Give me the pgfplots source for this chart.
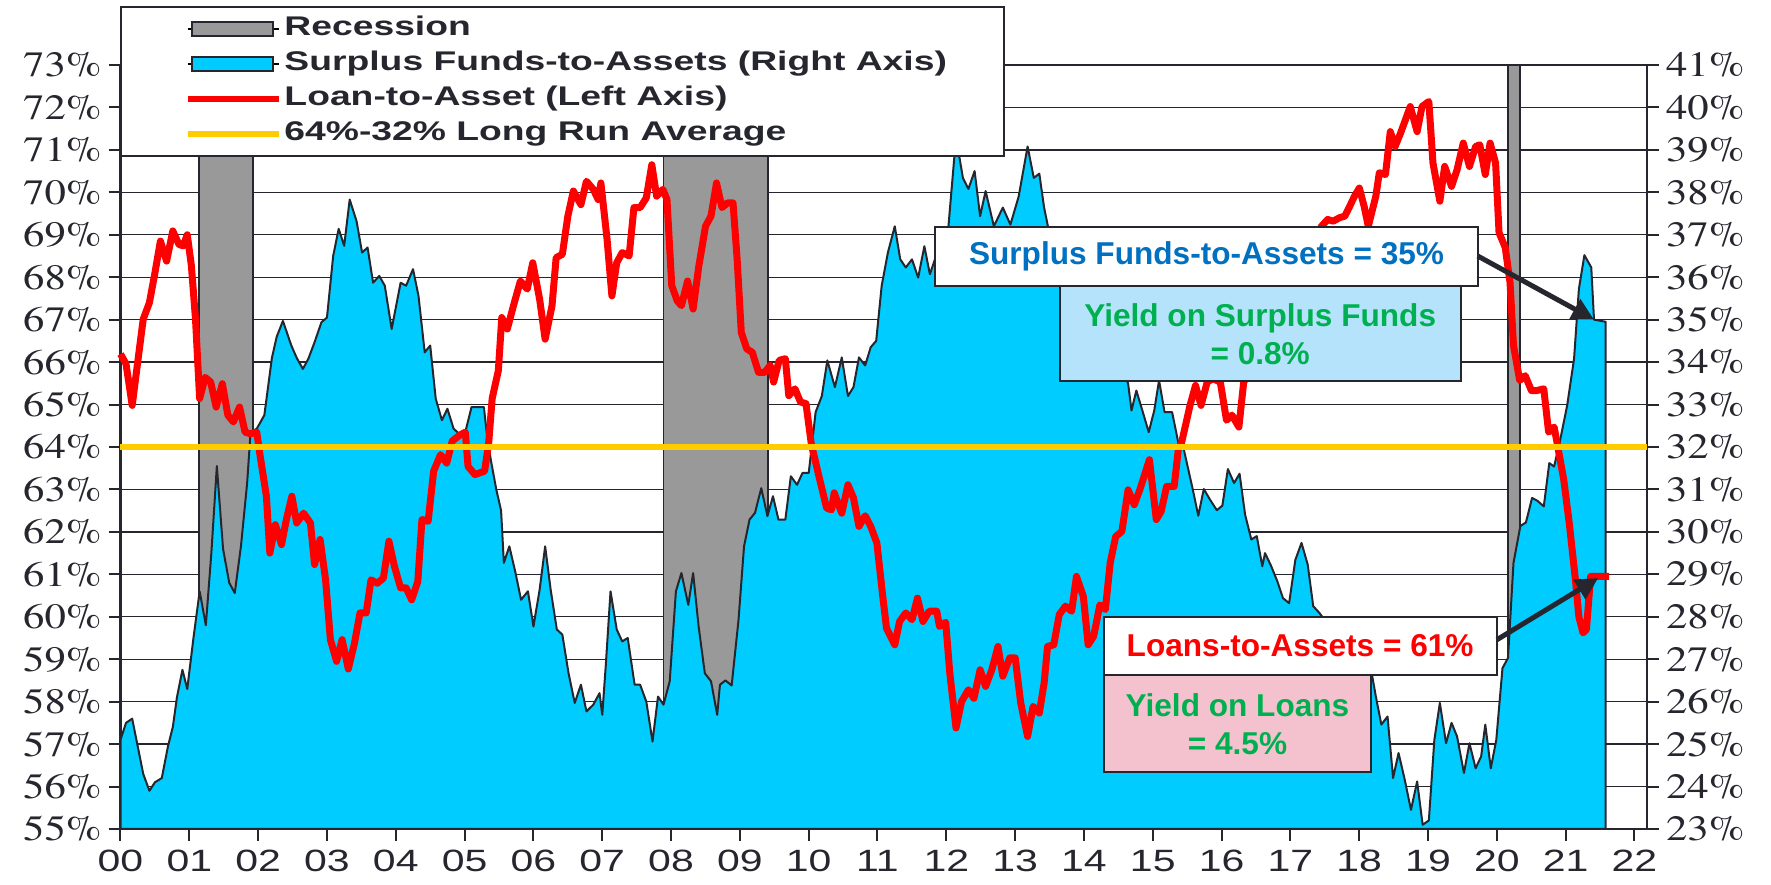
\documentclass[border=0pt]{standalone}
\usepackage{fontspec}
\setmainfont{Liberation Sans}
\newfontfamily\timesfont{texgyretermes-regular.otf}[FakeStretch=1.2]
\newfontfamily\sansticks{Liberation Sans}[FakeStretch=1.33]
\newfontfamily\legfont{Liberation Sans}[FakeStretch=1.38]
\newfontfamily\annfont{Liberation Sans}
\newcommand{\yl}[1]{\mbox{\timesfont\fontsize{17.8}{17.8}\selectfont #1\%}}
\newcommand{\xl}[1]{\mbox{\sansticks\fontsize{15.4}{15.4}\selectfont #1}}
\usepackage{pgfplots}
\usepackage{pgfplotstable}
\pgfplotsset{compat=1.18}
\usetikzlibrary{arrows.meta,calc}

\definecolor{cyanA}{HTML}{00CCFF}
\definecolor{recgray}{HTML}{999999}
\definecolor{darkln}{HTML}{26262F}
\definecolor{gold}{HTML}{FFCC00}
\definecolor{annblue}{HTML}{0070C0}
\definecolor{anngreen}{HTML}{00B050}
\definecolor{lblue}{HTML}{B5E3FB}
\definecolor{lpink}{HTML}{F4C2CE}

% Surplus funds-to-assets (right axis, %)
\pgfplotstableread{
year surplus
2000.00 25.10
2000.08 25.50
2000.17 25.60
2000.25 24.95
2000.33 24.30
2000.42 23.90
2000.50 24.10
2000.60 24.20
2000.69 24.95
2000.76 25.40
2000.82 26.10
2000.90 26.75
2000.97 26.30
2001.06 27.50
2001.15 28.60
2001.24 27.80
2001.32 29.50
2001.40 31.55
2001.49 29.60
2001.58 28.80
2001.66 28.56
2001.75 29.66
2001.84 31.15
2001.89 32.35
2001.98 32.43
2002.09 32.75
2002.20 34.10
2002.27 34.60
2002.36 34.97
2002.48 34.40
2002.56 34.10
2002.65 33.84
2002.73 34.08
2002.82 34.47
2002.92 34.94
2003.00 35.05
2003.09 36.50
2003.17 37.14
2003.25 36.74
2003.33 37.83
2003.43 37.32
2003.51 36.58
2003.59 36.70
2003.67 35.87
2003.76 36.03
2003.84 35.80
2003.94 34.78
2004.07 35.87
2004.15 35.80
2004.25 36.19
2004.33 35.56
2004.42 34.23
2004.50 34.39
2004.58 33.14
2004.67 32.63
2004.75 32.90
2004.84 32.43
2004.93 32.30
2005.01 32.35
2005.10 32.94
2005.28 32.94
2005.32 32.35
2005.38 31.70
2005.46 31.00
2005.53 30.50
2005.57 29.27
2005.65 29.66
2005.74 29.03
2005.82 28.40
2005.92 28.60
2006.00 27.77
2006.09 28.64
2006.17 29.66
2006.25 28.64
2006.34 27.70
2006.42 27.58
2006.51 26.67
2006.60 25.97
2006.69 26.40
2006.77 25.77
2006.87 25.93
2006.96 26.20
2007.00 25.69
2007.05 26.83
2007.12 28.60
2007.21 27.70
2007.29 27.42
2007.37 27.50
2007.47 26.40
2007.55 26.40
2007.64 26.00
2007.73 25.06
2007.81 26.12
2007.89 25.93
2007.98 26.48
2008.07 28.60
2008.15 29.03
2008.25 28.28
2008.32 29.03
2008.40 27.77
2008.49 26.67
2008.58 26.48
2008.67 25.69
2008.71 26.40
2008.79 26.50
2008.88 26.38
2008.98 27.93
2009.06 29.66
2009.14 30.29
2009.22 30.45
2009.31 31.03
2009.40 30.37
2009.48 30.84
2009.56 30.29
2009.66 30.29
2009.74 31.31
2009.83 31.11
2009.91 31.39
2010.00 31.39
2010.10 32.82
2010.19 33.20
2010.27 34.04
2010.38 33.41
2010.48 34.11
2010.57 33.20
2010.65 33.41
2010.73 34.11
2010.82 33.92
2010.90 34.35
2010.98 34.50
2011.06 35.80
2011.15 36.58
2011.25 37.20
2011.33 36.42
2011.41 36.23
2011.50 36.42
2011.59 35.99
2011.68 36.73
2011.76 36.07
2011.85 36.50
2011.95 37.00
2012.03 37.20
2012.14 39.30
2012.24 38.34
2012.32 38.08
2012.41 38.50
2012.49 37.44
2012.57 38.03
2012.69 37.20
2012.82 37.64
2012.93 37.24
2013.05 37.90
2013.18 39.08
2013.27 38.34
2013.35 38.44
2013.42 37.64
2013.50 37.00
2013.65 36.50
2013.80 36.00
2013.95 35.60
2014.10 35.20
2014.25 34.70
2014.40 34.20
2014.55 33.80
2014.64 33.50
2014.69 32.86
2014.76 33.33
2014.84 32.90
2014.94 32.35
2015.02 32.86
2015.09 33.57
2015.17 32.82
2015.28 32.82
2015.37 32.10
2015.45 31.94
2015.58 31.00
2015.66 30.38
2015.74 31.01
2015.83 30.76
2015.93 30.51
2016.01 30.62
2016.09 31.48
2016.18 31.15
2016.26 31.37
2016.34 30.41
2016.43 29.82
2016.51 29.90
2016.59 29.19
2016.63 29.50
2016.72 29.19
2016.81 28.83
2016.89 28.44
2016.98 28.32
2017.07 29.34
2017.16 29.74
2017.25 29.23
2017.33 28.25
2017.42 28.09
2017.55 27.80
2017.70 27.50
2017.85 27.10
2018.00 26.90
2018.18 26.67
2018.24 26.12
2018.32 25.46
2018.41 25.65
2018.49 24.20
2018.57 24.79
2018.66 24.16
2018.75 23.45
2018.84 24.12
2018.92 23.10
2019.01 23.20
2019.09 25.10
2019.17 25.97
2019.26 25.02
2019.34 25.50
2019.42 25.18
2019.52 24.32
2019.60 25.02
2019.69 24.43
2019.77 24.71
2019.83 25.46
2019.91 24.43
2019.99 25.10
2020.08 26.79
2020.16 27.03
2020.24 29.27
2020.34 30.14
2020.42 30.22
2020.51 30.80
2020.59 30.73
2020.68 30.60
2020.76 31.62
2020.83 31.54
2020.91 32.10
2021.02 32.98
2021.12 34.08
2021.19 35.72
2021.27 36.52
2021.37 36.23
2021.41 35.00
2021.58 34.95
}\surplus

% Loan-to-asset (left axis, %)
\pgfplotstableread{
year loans
2000.00 66.19
2000.08 65.96
2000.17 64.98
2000.25 66.00
2000.33 67.01
2000.42 67.40
2000.50 68.10
2000.58 68.85
2000.67 68.38
2000.76 69.09
2000.85 68.77
2000.91 68.74
2000.97 69.00
2001.03 68.27
2001.09 67.01
2001.15 65.14
2001.23 65.64
2001.31 65.53
2001.39 64.94
2001.48 65.49
2001.56 64.75
2001.64 64.59
2001.73 64.94
2001.81 64.35
2001.89 64.31
2001.98 64.35
2002.03 63.78
2002.12 62.84
2002.17 61.50
2002.25 62.17
2002.34 61.70
2002.41 62.29
2002.49 62.84
2002.56 62.21
2002.66 62.44
2002.76 62.21
2002.82 61.23
2002.90 61.82
2002.98 60.87
2003.05 59.46
2003.14 58.95
2003.22 59.46
2003.31 58.77
2003.40 59.38
2003.48 60.09
2003.57 60.09
2003.64 60.87
2003.73 60.79
2003.82 60.91
2003.90 61.78
2003.98 61.19
2004.07 60.68
2004.15 60.68
2004.23 60.40
2004.32 60.83
2004.38 62.29
2004.47 62.25
2004.55 63.43
2004.65 63.82
2004.74 63.62
2004.82 64.14
2004.93 64.28
2005.01 64.35
2005.05 63.54
2005.15 63.35
2005.29 63.43
2005.35 64.10
2005.40 65.14
2005.49 65.80
2005.54 67.05
2005.62 66.78
2005.71 67.33
2005.81 67.91
2005.91 67.72
2005.99 68.34
2006.09 67.48
2006.17 66.54
2006.27 67.33
2006.33 68.46
2006.42 68.54
2006.50 69.44
2006.58 70.03
2006.69 69.71
2006.77 70.26
2006.87 70.07
2006.94 69.83
2006.98 70.22
2007.07 68.89
2007.14 67.56
2007.21 68.34
2007.29 68.58
2007.39 68.50
2007.46 69.64
2007.55 69.64
2007.64 69.87
2007.72 70.65
2007.79 69.91
2007.88 70.07
2007.94 69.83
2008.01 67.80
2008.09 67.44
2008.15 67.33
2008.24 67.91
2008.32 67.25
2008.40 68.23
2008.50 69.20
2008.58 69.44
2008.66 70.22
2008.74 69.64
2008.82 69.75
2008.90 69.75
2008.96 68.42
2009.02 66.70
2009.10 66.31
2009.18 66.23
2009.27 65.76
2009.36 65.76
2009.44 65.92
2009.49 65.53
2009.57 66.04
2009.66 66.08
2009.71 65.21
2009.80 65.37
2009.88 65.06
2009.96 65.02
2010.04 64.04
2010.08 63.78
2010.16 63.23
2010.26 62.56
2010.33 62.52
2010.37 62.92
2010.48 62.44
2010.57 63.11
2010.65 62.80
2010.73 62.13
2010.82 62.38
2010.90 62.13
2010.99 61.74
2011.07 60.56
2011.13 59.73
2011.25 59.34
2011.32 59.89
2011.41 60.09
2011.50 59.93
2011.58 60.44
2011.66 59.89
2011.75 60.13
2011.86 60.13
2011.90 59.77
2011.99 59.87
2012.05 58.67
2012.14 57.38
2012.22 58.00
2012.32 58.28
2012.40 58.08
2012.49 58.75
2012.57 58.36
2012.66 58.75
2012.75 59.30
2012.82 58.60
2012.92 59.03
2013.00 59.03
2013.08 57.97
2013.18 57.18
2013.26 57.89
2013.35 57.73
2013.42 58.44
2013.47 59.30
2013.56 59.34
2013.64 60.05
2013.73 60.25
2013.82 60.13
2013.89 60.95
2013.99 60.48
2014.06 59.34
2014.14 59.54
2014.23 60.28
2014.31 60.17
2014.38 61.27
2014.46 61.89
2014.55 62.01
2014.64 62.99
2014.73 62.64
2014.81 62.99
2014.95 63.70
2015.05 62.29
2015.12 62.48
2015.20 63.07
2015.31 63.07
2015.37 63.94
2015.42 64.12
2015.54 64.98
2015.62 65.45
2015.70 64.98
2015.79 65.53
2015.87 65.61
2015.98 65.53
2016.07 64.63
2016.15 64.75
2016.25 64.47
2016.32 65.53
2016.50 66.00
2016.70 66.70
2016.90 67.40
2017.10 68.00
2017.30 68.60
2017.45 69.20
2017.54 69.36
2017.62 69.32
2017.71 69.40
2017.79 69.44
2017.86 69.67
2017.93 69.91
2018.00 70.10
2018.07 69.67
2018.13 69.20
2018.24 69.91
2018.29 70.46
2018.38 70.42
2018.45 71.43
2018.52 71.08
2018.60 71.40
2018.67 71.71
2018.74 72.02
2018.84 71.43
2018.91 72.02
2019.01 72.14
2019.07 70.69
2019.17 69.79
2019.24 70.61
2019.34 70.14
2019.42 70.53
2019.51 71.16
2019.60 70.61
2019.69 71.08
2019.75 71.12
2019.83 70.42
2019.90 71.16
2019.98 70.69
2020.03 69.05
2020.12 68.70
2020.19 67.87
2020.24 66.39
2020.33 65.57
2020.41 65.68
2020.50 65.33
2020.58 65.33
2020.68 65.37
2020.75 64.35
2020.83 64.47
2020.88 64.04
2020.97 63.23
2021.05 62.21
2021.14 60.87
2021.19 60.00
2021.25 59.62
2021.30 59.70
2021.36 60.95
2021.63 60.95
}\loans

\begin{document}
\begin{tikzpicture}
% ---------------- right axis: recessions, surplus area, grid
\begin{axis}[
  scale only axis, width=763.25pt, height=382pt,
  xmin=2000, xmax=2022.18, ymin=23, ymax=41,
  clip=false,
  axis line style={draw=darkln, line width=1pt},
  xtick=\empty,
  ytick={23,...,41},
  yticklabels={\yl{23},\yl{24},\yl{25},\yl{26},\yl{27},\yl{28},\yl{29},\yl{30},\yl{31},\yl{32},\yl{33},\yl{34},\yl{35},\yl{36},\yl{37},\yl{38},\yl{39},\yl{40},\yl{41}},
  ytick pos=right, yticklabel pos=right,
  tick align=outside, major tick length=6pt,
  tick style={draw=darkln, line width=1pt},
  ymajorgrids, grid style={draw=darkln, line width=0.65pt},
  yticklabel style={text=darkln},
]
\addplot[fill=recgray, draw=darkln, line width=0.9pt] coordinates {(2001.14,41) (2001.92,41)} \closedcycle;
\addplot[fill=recgray, draw=darkln, line width=0.9pt] coordinates {(2007.89,41) (2009.41,41)} \closedcycle;
\addplot[fill=recgray, draw=darkln, line width=0.9pt] coordinates {(2020.16,41) (2020.33,41)} \closedcycle;
\addplot[fill=cyanA, draw=darkln, line width=1pt, line join=round] table[x=year, y=surplus] {\surplus} \closedcycle;
\end{axis}
% ---------------- left axis: loans, long run average, annotations, legend
\begin{axis}[
  scale only axis, width=763.25pt, height=382pt,
  xmin=2000, xmax=2022.18, ymin=55, ymax=73,
  clip=false,
  axis line style={draw=darkln, line width=1pt},
  xtick={2000,...,2022},
  xticklabels={\xl{00},\xl{01},\xl{02},\xl{03},\xl{04},\xl{05},\xl{06},\xl{07},\xl{08},\xl{09},\xl{10},\xl{11},\xl{12},\xl{13},\xl{14},\xl{15},\xl{16},\xl{17},\xl{18},\xl{19},\xl{20},\xl{21},\xl{22}},
  xtick pos=bottom,
  ytick={55,...,73},
  yticklabels={\yl{55},\yl{56},\yl{57},\yl{58},\yl{59},\yl{60},\yl{61},\yl{62},\yl{63},\yl{64},\yl{65},\yl{66},\yl{67},\yl{68},\yl{69},\yl{70},\yl{71},\yl{72},\yl{73}},
  ytick pos=left,
  tick align=outside, major tick length=6pt,
  tick style={draw=darkln, line width=1pt},
  yticklabel style={text=darkln},
  xticklabel style={text=darkln, yshift=-1pt},
  legend style={at={(0,1)}, anchor=north west, yshift=29.5pt,
    draw=darkln, line width=1pt, fill=white,
    inner xsep=31.5pt, inner ysep=4.5pt, row sep=4.5pt, column sep=1.5pt,
    font=\legfont\bfseries\fontsize{13.5}{16}\selectfont, text=darkln,
    nodes={inner sep=0pt, text height=10pt, text depth=3pt},
    cells={anchor=west}},
]
\addlegendimage{legend image code/.code={\path (0pt,0pt) -- (45.5pt,0pt); \draw[fill=recgray, draw=darkln, line width=1pt] (2pt,-3.5pt) rectangle (42.5pt,3.5pt);}}
\addlegendentry{\makebox[328pt][l]{Recession}}
\addlegendimage{legend image code/.code={\path (0pt,0pt) -- (45.5pt,0pt); \draw[fill=cyanA, draw=darkln, line width=1pt] (2pt,-3.5pt) rectangle (42.5pt,3.5pt);}}
\addlegendentry{\makebox[328pt][l]{Surplus Funds-to-Assets (Right Axis)}}
\addplot[red, line width=3.5pt, line join=round, legend image code/.code={\draw[red, line width=3pt] (0pt,0pt) -- (45.5pt,0pt);}] table[x=year, y=loans] {\loans};
\addlegendentry{\makebox[328pt][l]{Loan-to-Asset (Left Axis)}}
\addplot[gold, line width=2.7pt, legend image code/.code={\draw[gold, line width=3pt] (0pt,0pt) -- (45.5pt,0pt);}] coordinates {(2000,64) (2022.18,64)};
\addlegendentry{\makebox[328pt][l]{64\%-32\% Long Run Average}}

% annotation boxes
\draw[darkln, line width=1pt, fill=lblue] (axis cs:2013.65,65.55) rectangle (axis cs:2019.47,67.80);
\draw[darkln, line width=1pt, fill=white] (axis cs:2011.84,67.80) rectangle (axis cs:2019.72,69.18);
\node[text=annblue, font=\annfont\bfseries\fontsize{15.8}{19}\selectfont] at (axis cs:2015.78,68.49) {Surplus Funds-to-Assets = 35\%};
\node[text=anngreen, align=center, font=\annfont\bfseries\fontsize{15.8}{19}\selectfont] at (axis cs:2016.56,66.66) {Yield on Surplus Funds\\= 0.8\%};
\draw[darkln, line width=1pt, fill=lpink] (axis cs:2014.29,56.34) rectangle (axis cs:2018.17,58.63);
\draw[darkln, line width=1pt, fill=white] (axis cs:2014.29,58.63) rectangle (axis cs:2020.00,60.00);
\node[text=red, font=\annfont\bfseries\fontsize{15.8}{19}\selectfont] at (axis cs:2017.14,59.31) {Loans-to-Assets = 61\%};
\node[text=anngreen, align=center, font=\annfont\bfseries\fontsize{15.8}{19}\selectfont] at (axis cs:2016.23,57.47) {Yield on Loans\\= 4.5\%};
% arrows
\draw[darkln, line width=2.5pt, -{Triangle[length=11pt,width=11pt]}] (axis cs:2019.72,68.50) -- (axis cs:2021.41,67.00);
\draw[darkln, line width=2.5pt, -{Triangle[length=11pt,width=11pt]}] (axis cs:2020.00,59.46) -- (axis cs:2021.47,60.91);

\coordinate (BL) at (rel axis cs:0,0);
\coordinate (TR) at (rel axis cs:1,1);
\end{axis}
\pgfresetboundingbox
\useasboundingbox ($(BL)+(-60.25pt,-28pt)$) rectangle ($(TR)+(62pt,32.5pt)$);
\end{tikzpicture}
\end{document}
